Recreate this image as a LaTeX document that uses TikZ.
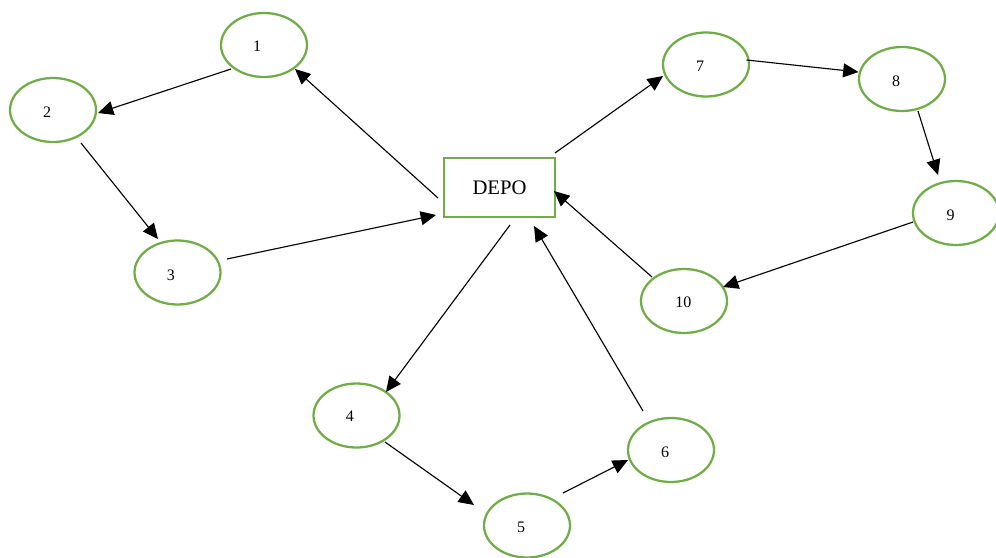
\documentclass[tikz,border=0pt]{standalone}
\usepackage{fontspec}
\setmainfont{Liberation Serif}
\usetikzlibrary{shapes.geometric,arrows.meta,calc}
\definecolor{ogreen}{HTML}{70AD47}
\begin{document}
\begin{tikzpicture}[x=0.75pt,y=-0.75pt,
  stop/.style={ellipse,draw=ogreen,line width=1.7pt,minimum width=64.5pt,minimum height=48pt,inner sep=0pt},
  depot/.style={rectangle,draw=ogreen,line width=1.7pt,minimum width=83.25pt,minimum height=44.25pt,font=\fontsize{15.5}{18}\selectfont},
  num/.style={font=\fontsize{12}{14}\selectfont,inner sep=0pt},
  arr/.style={draw=black,line width=0.85pt,-{Triangle[length=11.5pt,width=10.5pt]}}]
\clip (0,0) rectangle (996,557);
\node[depot] (d) at (499.5,187.5) {DEPO};
\node[stop,label={[num,xshift=-5.25pt,yshift=-0.75pt]center:1}] (n1) at (264,45) {};
\node[stop,label={[num,xshift=-4.5pt,yshift=-1.9pt]center:2}] (n2) at (53,110) {};
\node[stop,label={[num,xshift=-4.9pt,yshift=-1.9pt]center:3}] (n3) at (177.5,272.5) {};
\node[stop,label={[num,xshift=-4.9pt,yshift=-0.75pt]center:4}] (n4) at (356.5,415.5) {};
\node[stop,label={[num,xshift=-4.5pt,yshift=-1.5pt]center:5}] (n5) at (527,525.5) {};
\node[stop,label={[num,xshift=-4.5pt,yshift=-1.5pt]center:6}] (n6) at (671,450) {};
\node[stop,label={[num,xshift=-4.5pt,yshift=-1.1pt]center:7}] (n7) at (706,64.5) {};
\node[stop,label={[num,xshift=-4.5pt,yshift=-1.5pt]center:8}] (n8) at (902,79) {};
\node[stop,label={[num,xshift=-4.1pt,yshift=-1.9pt]center:9}] (n9) at (956,213) {};
\node[stop,label={[num,xshift=-0.4pt,yshift=-1.1pt]center:10}] (n10) at (684,301) {};
\draw[arr] ($(d)+(-61.5,10.5)$) -- ($(n1)+(31,24)$);
\draw[arr] ($(n1)+(-33,24)$) -- ($(n2)+(45,3)$);
\draw[arr] ($(n2)+(28,33)$) -- ($(n3)+(-19.5,-33.5)$);
\draw[arr] ($(n3)+(49.5,-13.5)$) -- ($(d)+(-63.5,27.5)$);
\draw[arr] ($(d)+(10.5,37.5)$) -- ($(n4)+(29.5,-23.5)$);
\draw[arr] ($(n4)+(28.5,26.5)$) -- ($(n5)+(-53,-20.5)$);
\draw[arr] ($(n5)+(36,-32.5)$) -- ($(n6)+(-43,10)$);
\draw[arr] ($(n6)+(-28,-39)$) -- ($(d)+(34.5,38.5)$);
\draw[arr] ($(n10)+(-32,-24)$) -- ($(d)+(54.5,3.5)$);
\draw[arr] ($(d)+(55.5,-34.5)$) -- ($(n7)+(-43,11.5)$);
\draw[arr] ($(n7)+(40.5,-4.5)$) -- ($(n8)+(-43.5,-7)$);
\draw[arr] ($(n8)+(16,32)$) -- ($(n9)+(-18,-38)$);
\draw[arr] ($(n9)+(-43,9)$) -- ($(n10)+(39,-14)$);
\end{tikzpicture}
\end{document}
